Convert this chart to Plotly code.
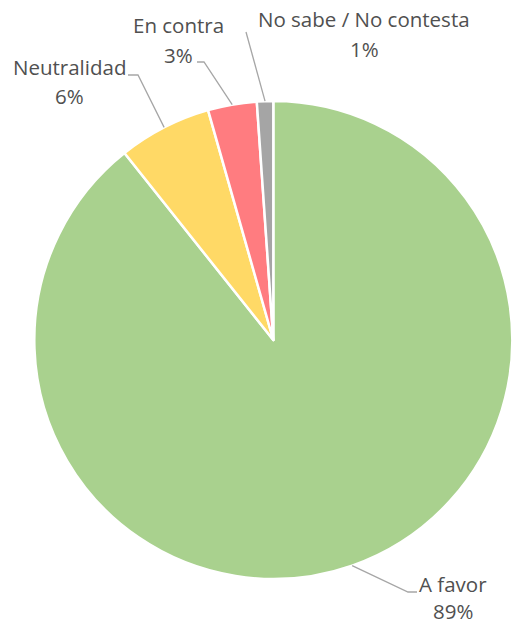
import math
import plotly.graph_objects as go

# ---- data ----
labels = ["A favor", "Neutralidad", "En contra", "No sabe / No contesta"]
values = [89.3, 6.3, 3.3, 1.1]
pct_text = ["89%", "6%", "3%", "1%"]
colors = ["#A9D18E", "#FFD966", "#FF7C80", "#A5A5A5"]

# ---- layout constants (pixels) ----
W, H = 513, 626
CX, CY, R = 273.3, 340.0, 239.0
FONT = "Open Sans"
FS = 20.5
TXT = "#505050"
LINE = "#A6A6A6"

# label placement: (center x, line1 y, line2 y)
label_pos = {
    "A favor": (453, 584, 611),
    "Neutralidad": (69, 67, 96),
    "En contra": (178, 25, 55),
    "No sabe / No contesta": (364, 19, 49),
}
# leader line path after the slice edge point
leader_path = {
    "A favor": [(408, 592), (417, 592)],
    "Neutralidad": [(138, 75), (128, 75)],
    "En contra": [(204, 62), (197, 62)],
    "No sabe / No contesta": [(246, 32)],
}


def px(x):
    return x / W


def py(y):
    return 1 - y / H


fig = go.Figure(
    go.Pie(
        labels=labels,
        values=values,
        sort=False,
        direction="clockwise",
        rotation=0,
        marker=dict(colors=colors, line=dict(color="white", width=2.5)),
        textinfo="none",
        hoverinfo="label+percent",
        showlegend=False,
        domain=dict(x=[px(CX - R), px(CX + R)], y=[py(CY + R), py(CY - R)]),
    )
)

shapes = []
annotations = []
total = sum(values)
cum = 0.0
for lab, v, pt in zip(labels, values, pct_text):
    mid = (cum + v / 2) / total * 2 * math.pi  # clockwise from 12 o'clock
    cum += v
    sx = CX + R * math.sin(mid)
    sy = CY - R * math.cos(mid)
    pts = [(sx, sy)] + leader_path[lab]
    path = "M " + " L ".join(f"{px(x)},{py(y)}" for x, y in pts)
    shapes.append(dict(type="path", xref="paper", yref="paper", path=path,
                       line=dict(color=LINE, width=1.3)))
    lx, ly1, ly2 = label_pos[lab]
    for txt, yy in ((lab, ly1), (pt, ly2)):
        annotations.append(dict(text=txt, x=px(lx), y=py(yy), xref="paper", yref="paper",
                                xanchor="center", yanchor="middle", showarrow=False,
                                font=dict(family=FONT, size=FS, color=TXT)))

fig.update_layout(
    width=W, height=H,
    margin=dict(l=0, r=0, t=0, b=0),
    paper_bgcolor="white",
    plot_bgcolor="white",
    shapes=shapes,
    annotations=annotations,
)

fig.write_html(
    "out.html",
    config={"displayModeBar": False},
    post_script="document.body.style.margin='0';document.body.style.overflow='hidden';",
)
